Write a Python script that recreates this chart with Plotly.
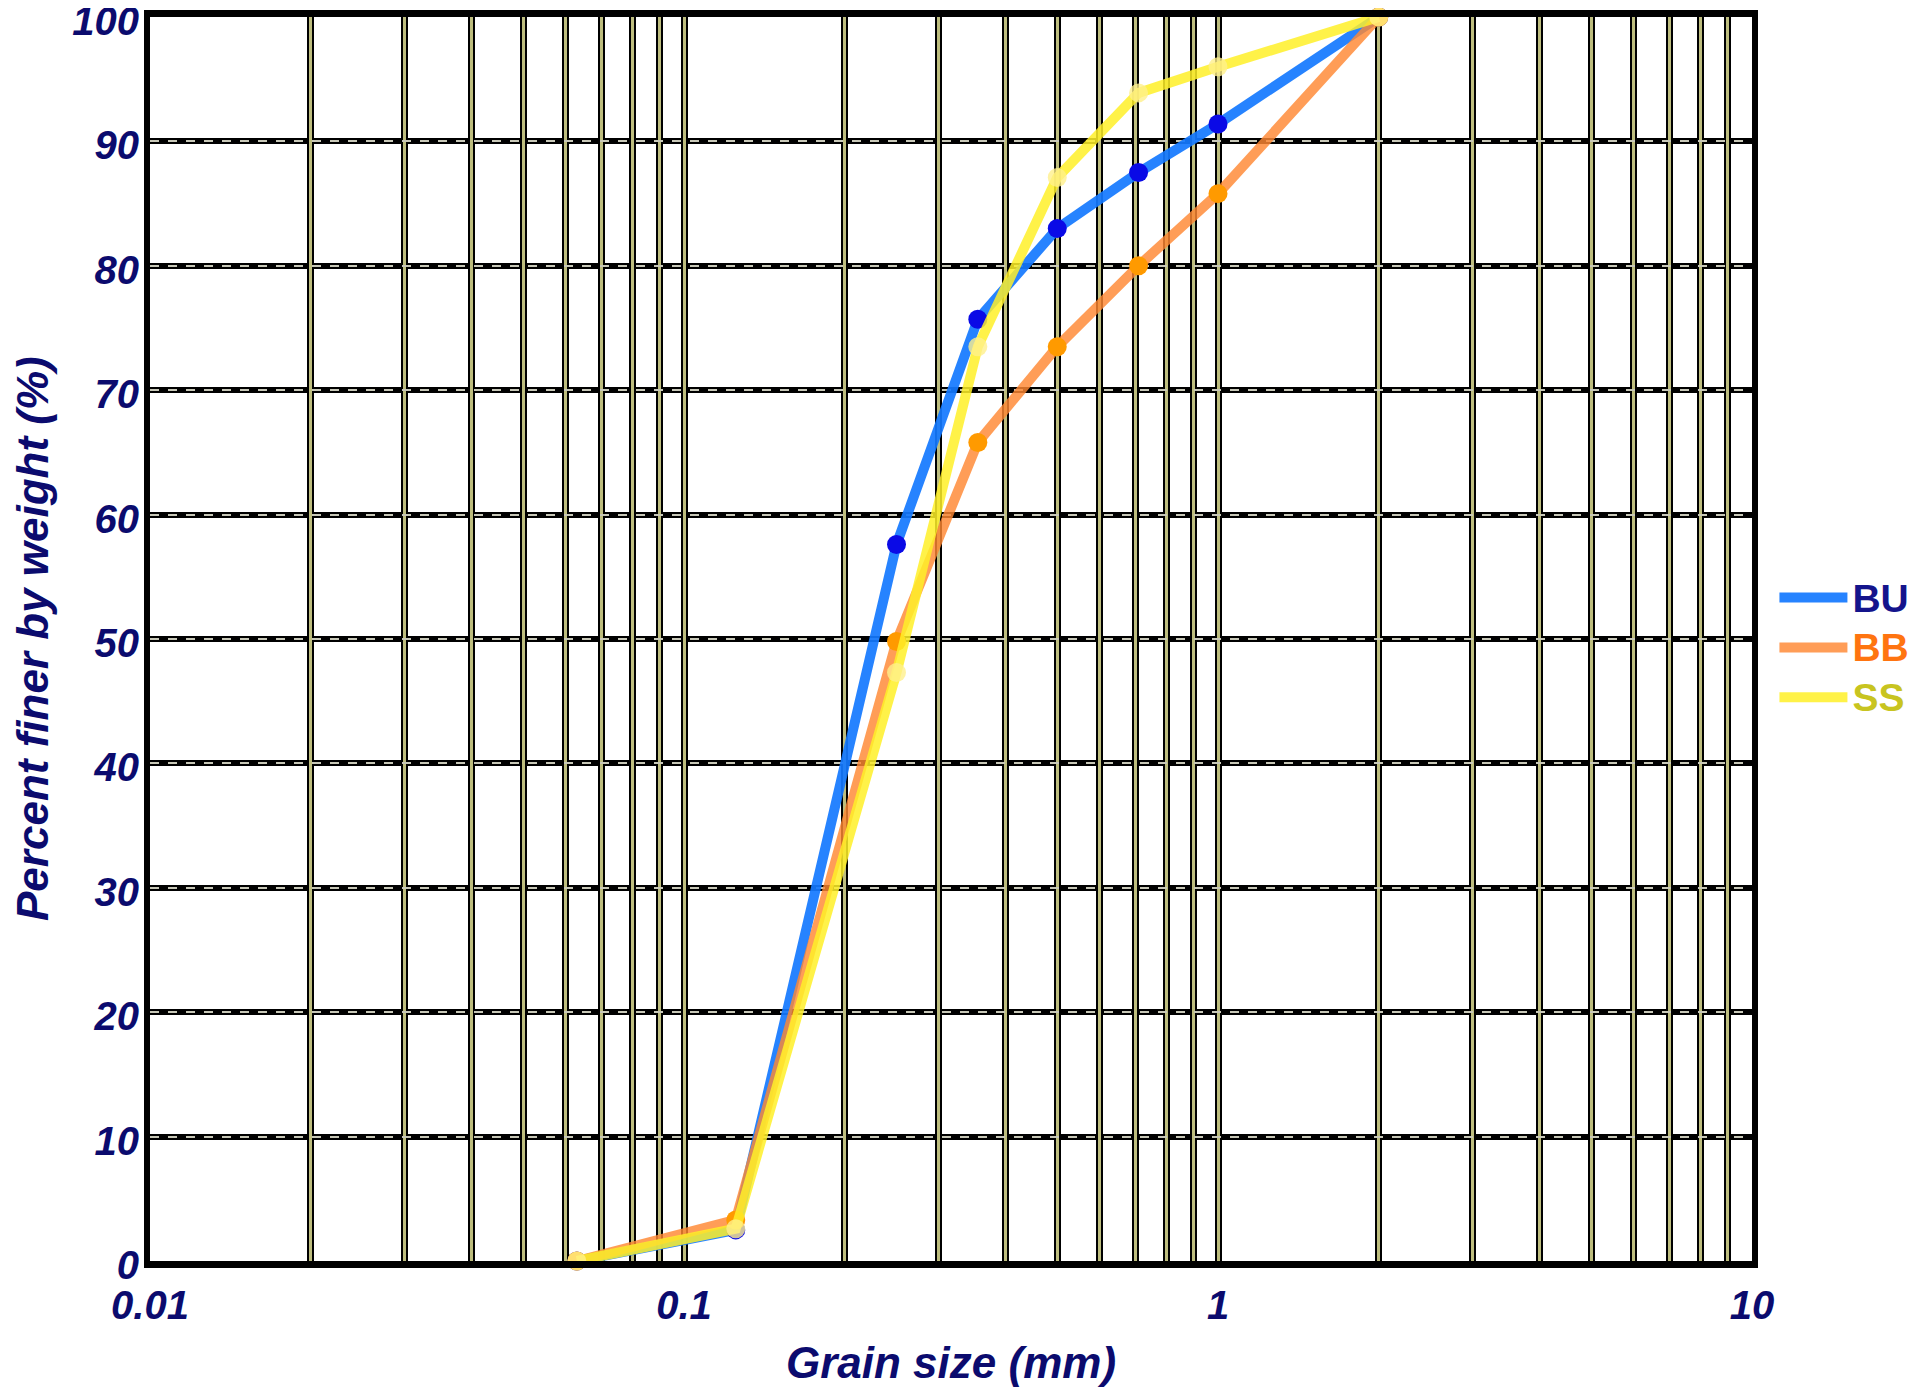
import plotly.graph_objects as go

# ---- data ----
grain_size_mm = [0.063, 0.125, 0.25, 0.355, 0.5, 0.71, 1, 2]
bu_finer = [0, 2.5, 57.6, 75.7, 83.0, 87.5, 91.4, 100]
bb_finer = [0, 3.3, 49.8, 65.8, 73.5, 80.0, 85.8, 100]
ss_finer = [0, 2.6, 47.3, 73.5, 87.1, 93.9, 96.0, 100]

x_grid_vals = [m * 10 ** e for e in (-2, -1, 0) for m in range(1, 10)] + [10]
x_tick_labels = {0.01: "0.01", 0.1: "0.1", 1: "1", 10: "10"}
y_tick_vals = list(range(0, 101, 10))
y_title = "Percent finer by weight (%)"
x_title = "Grain size (mm)"

NAVY = "#0b0b6e"
tick_font = dict(family="Liberation Sans, Arial", size=40, color=NAVY,
                 weight="bold", style="italic")
title_font = dict(family="Liberation Sans, Arial", size=44, color=NAVY,
                  weight="bold", style="italic")

series = [
    ("BU", bu_finer, "rgba(20,120,255,0.92)", "#0a0ae6", "#14148c"),
    ("BB", bb_finer, "rgba(255,135,50,0.82)", "#ff9a00", "#ff7410"),
    ("SS", ss_finer, "rgba(255,240,40,0.85)", "rgba(255,240,140,0.8)", "#c8c420"),
]

fig = go.Figure()
for name, vals, lc, mc, tc in series:
    fig.add_trace(go.Scatter(
        x=grain_size_mm, y=vals, mode="lines",
        name=f"<span style='color:{tc};font-size:39px'>{name}</span>",
        legendgroup=name,
        line=dict(color=lc, width=10),
        cliponaxis=False,
    ))
    fig.add_trace(go.Scatter(
        x=grain_size_mm, y=vals, mode="markers", legendgroup=name,
        showlegend=False,
        marker=dict(color=mc, size=19, line=dict(width=0)),
        cliponaxis=False,
    ))

# invisible trace to carry the overlay axes (inner grid stripe)
fig.add_trace(go.Scatter(x=[grain_size_mm[0]], y=[bu_finer[0]], xaxis="x2", yaxis="y2",
                         mode="markers", marker=dict(opacity=0), showlegend=False,
                         hoverinfo="skip"))

x_text = [x_tick_labels.get(v, "") for v in x_grid_vals]

fig.update_layout(
    width=1916, height=1386,
    margin=dict(l=142, r=172, t=9, b=133, autoexpand=False),
    paper_bgcolor="white", plot_bgcolor="white",
    showlegend=True,
    legend=dict(x=1.014, y=0.493, xanchor="left", yanchor="middle",
                font=dict(family="Liberation Sans, Arial", size=36, weight="bold"),
                bgcolor="rgba(0,0,0,0)", itemwidth=68, tracegroupgap=0),
    xaxis=dict(type="log", range=[-2, 1], tickmode="array",
               tickvals=x_grid_vals, ticktext=x_text, automargin=False,
               showgrid=True, gridcolor="black", gridwidth=7,
               showline=True, linecolor="black", linewidth=7, mirror=True,
               ticks="", tickfont=tick_font, ticklabelstandoff=3,
               ticklabeloverflow="allow",
               title=dict(text=x_title, font=title_font, standoff=24),
               zeroline=False),
    yaxis=dict(range=[0, 100], tickmode="array", tickvals=y_tick_vals,
               automargin=False,
               showgrid=True, gridcolor="black", gridwidth=6,
               showline=True, linecolor="black", linewidth=6, mirror=True,
               ticks="", tickfont=tick_font, ticklabelstandoff=-3,
               ticklabelshift=4,
               ticklabeloverflow="allow",
               zeroline=False),
    xaxis2=dict(type="log", range=[-2, 1], overlaying="x", anchor="y2",
                tickmode="array", tickvals=x_grid_vals, showticklabels=False,
                showgrid=True, gridcolor="#bdbd7e", gridwidth=3, ticks="",
                showline=False, zeroline=False),
    yaxis2=dict(range=[0, 100], overlaying="y", anchor="x2",
                tickmode="array", tickvals=y_tick_vals, showticklabels=False,
                showgrid=True, gridcolor="#c8c8b8", gridwidth=2, griddash="dash",
                ticks="", showline=False, zeroline=False),
    annotations=[dict(text=y_title, font=title_font, textangle=-90,
                      xref="paper", yref="paper", x=0, y=0.5,
                      xanchor="center", yanchor="middle", xshift=-118,
                      showarrow=False)],
)

fig.write_html("out.html")
